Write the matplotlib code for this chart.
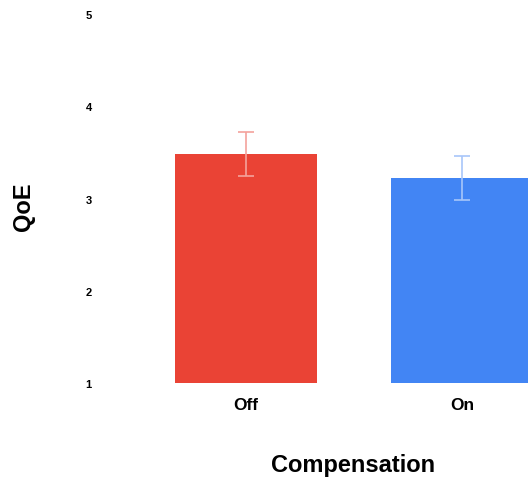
import matplotlib
matplotlib.use("Agg")
import matplotlib.pyplot as plt

categories = ["Off", "On"]
qoe_mean = [3.48, 3.22]
qoe_err = [0.24, 0.24]
bar_colors = ["#EA4335", "#4285F4"]
err_colors = ["#F4A29C", "#A8C6FA"]
y_ticks = [1, 2, 3, 4, 5]

plt.rcParams['font.family'] = ['Liberation Sans', 'DejaVu Sans']

W, H = 528, 481
fig = plt.figure(figsize=(W / 100, H / 100), dpi=100)
ax_left, ax_right = 100, 528
ax_bottom, ax_top = 384, 15
ax = fig.add_axes([ax_left / W, (H - ax_bottom) / H, (ax_right - ax_left) / W, (ax_bottom - ax_top) / H])

x = list(range(len(categories)))
ax.bar(x, [m - 1 for m in qoe_mean], bottom=1, width=0.655, color=bar_colors, zorder=2)
for xi, m, e, c in zip(x, qoe_mean, qoe_err, err_colors):
    ax.errorbar(xi, m, yerr=e, fmt='none', ecolor=c, elinewidth=1.2, capsize=6, capthick=1.2, zorder=3)

px_per_unit = 216.0
ax.set_xlim((ax_left - 246) / px_per_unit, (ax_right - 246) / px_per_unit)
ax.set_ylim(1, 5)
ax.set_xticks(x)
ax.set_xticklabels(categories, fontsize=12.5, fontweight='bold')
ax.set_yticks(y_ticks)
ax.set_yticklabels([str(t) for t in y_ticks], fontsize=8, fontweight='bold')
ax.tick_params(axis='both', length=0)
ax.tick_params(axis='x', pad=10)
ax.tick_params(axis='y', pad=6)
for s in ax.spines.values():
    s.set_visible(False)

ax.set_xlabel("Compensation", fontsize=17, fontweight='bold')
ax.xaxis.set_label_coords((353 - ax_left) / (ax_right - ax_left), (ax_bottom - 454) / (ax_bottom - ax_top))
ax.set_ylabel("QoE", fontsize=17, fontweight='bold')
ax.yaxis.set_label_coords((35 - ax_left) / (ax_right - ax_left), (ax_bottom - 207) / (ax_bottom - ax_top))

fig.savefig("out.png", dpi=100)
